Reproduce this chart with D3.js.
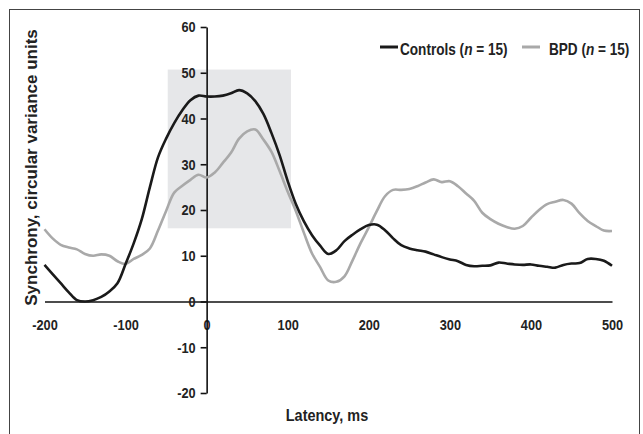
<html>
<head>
<meta charset="utf-8">
<script src="https://d3js.org/d3.v7.min.js"></script>
<style>
    body { margin: 0; background: #fff; }
    svg { display: block; }
    .tick text, .lbl { font-family: "Liberation Sans", Arial, sans-serif; font-weight: bold; fill: #222; }
</style>
</head>
<body>
<svg id="chart" width="643" height="434"></svg>
<script>
    // latency grid (ms) and group means
    var latency = d3.range(-200, 501, 10);
    var controls = [8.0, 6.0, 4.0, 2.0, 0.3, 0.0, 0.3, 1.0, 2.2, 4.0,
        8.2, 12.7, 18.0, 25.0, 31.5, 35.6, 39.0, 41.8, 44.0, 45.0,
        44.8, 44.8, 45.0, 45.5, 46.2, 45.5, 43.8, 41.0, 36.8, 32.0,
        26.3, 21.3, 17.5, 14.5, 12.2, 10.4, 11.2, 13.2, 14.6, 15.8,
        16.7, 16.8, 15.6, 13.8, 12.3, 11.6, 11.2, 10.9, 10.3, 9.7,
        9.2, 8.8, 8.0, 7.7, 7.8, 7.9, 8.5, 8.3, 8.1, 8.0,
        8.1, 7.8, 7.6, 7.4, 8.0, 8.3, 8.4, 9.3, 9.3, 8.9, 7.8];
    var bpd = [15.8, 13.8, 12.4, 11.8, 11.4, 10.4, 10.0, 10.3, 10.0, 8.8,
        8.2, 9.3, 10.2, 11.6, 15.5, 19.8, 23.8, 25.3, 26.6, 27.7,
        27.1, 28.2, 30.3, 32.5, 35.6, 37.2, 37.6, 35.4, 32.7, 28.5,
        24.0, 19.8, 15.0, 10.5, 7.5, 4.6, 4.3, 5.5, 9.0, 12.8,
        16.2, 19.8, 23.0, 24.4, 24.4, 24.6, 25.2, 26.0, 26.7, 26.1,
        26.3, 25.2, 23.6, 22.0, 19.4, 18.0, 17.0, 16.3, 15.9, 16.5,
        18.3, 20.0, 21.3, 21.8, 22.2, 21.4, 19.3, 17.6, 16.5, 15.5, 15.4];
    var xTicks = [-200, -100, 0, 100, 200, 300, 400, 500];
    var yTicks = [-20, -10, 0, 10, 20, 30, 40, 50, 60];
    var windowMs = [-48, 104];      // shaded analysis window
    var windowVal = [16, 50.7];

    var narrow = 0.85;  // squeeze to look like a condensed face
    var fmt = function(d) { return String(d); };

    var svg = d3.select('#chart');

    // frame round the figure
    svg.append('rect')
        .attr('x', 9.5).attr('y', 9.5)
        .attr('width', 630).attr('height', 440)
        .attr('fill', 'none').attr('stroke', '#444').attr('stroke-width', 1);

    var x = d3.scaleLinear().domain([-200, 500]).range([44.5, 612]);
    var y = d3.scaleLinear().domain([-20, 60]).range([393, 27]);

    svg.append('rect')
        .attr('x', x(windowMs[0])).attr('y', y(windowVal[1]))
        .attr('width', x(windowMs[1]) - x(windowMs[0]))
        .attr('height', y(windowVal[0]) - y(windowVal[1]))
        .attr('fill', '#e6e7e9');

    // x axis along zero, labels only
    var xAxis = svg.append('g')
        .attr('transform', 'translate(0,' + y(0) + ')')
        .call(d3.axisBottom(x).tickValues(xTicks).tickFormat(fmt).tickSize(0).tickPadding(18));
    xAxis.select('.domain').attr('stroke', '#111').attr('stroke-width', 1.6);
    xAxis.selectAll('.tick text')
        .style('font-size', '15px')
        .attr('transform', 'scale(' + narrow + ',1)');

    var yAxis = svg.append('g')
        .attr('transform', 'translate(' + x(0) + ',0)')
        .call(d3.axisLeft(y).tickValues(yTicks).tickFormat(fmt).tickSize(6).tickSizeOuter(0));
    yAxis.select('.domain').attr('stroke', '#111').attr('stroke-width', 1.6);
    yAxis.selectAll('.tick line').attr('stroke', '#111').attr('stroke-width', 1.6);
    yAxis.selectAll('.tick text')
        .style('font-size', '15px')
        .attr('x', -11 / narrow)
        .attr('transform', 'scale(' + narrow + ',1)');

    var line = d3.line().curve(d3.curveCatmullRom)
        .x(function(d, i) { return x(latency[i]); })
        .y(function(d) { return y(d); });

    svg.append('path').datum(bpd)
        .attr('d', line).attr('fill', 'none')
        .attr('stroke', '#a9a9a9').attr('stroke-width', 2.6);
    svg.append('path').datum(controls)
        .attr('d', line).attr('fill', 'none')
        .attr('stroke', '#1a1a1a').attr('stroke-width', 2.6);

    // legend
    var legend = [
        { name: 'Controls', color: '#1a1a1a', x0: 380, tx: 400 },
        { name: 'BPD', color: '#a9a9a9', x0: 522, tx: 549 }
    ];
    legend.forEach(function(d) {
        svg.append('line')
            .attr('x1', d.x0).attr('x2', d.x0 + 18)
            .attr('y1', 47).attr('y2', 47)
            .attr('stroke', d.color).attr('stroke-width', 3);
        var t = svg.append('text').attr('class', 'lbl')
            .attr('transform', 'translate(' + d.tx + ',55) scale(' + narrow + ',1)')
            .style('font-size', '16px');
        t.append('tspan').text(d.name + ' (');
        t.append('tspan').style('font-style', 'italic').text('n');
        t.append('tspan').text(' = 15)');
    });

    svg.append('text').attr('class', 'lbl')
        .attr('transform', 'translate(327,421) scale(' + narrow + ',1)')
        .attr('text-anchor', 'middle')
        .style('font-size', '17px')
        .text('Latency, ms');

    svg.append('text')
        .attr('transform', 'translate(37,167.5) rotate(-90)')
        .attr('text-anchor', 'middle')
        .style('font-family', '"Liberation Sans", Arial, sans-serif')
        .style('font-weight', 'bold')
        .style('font-size', '17px')
        .style('fill', '#222')
        .text('Synchrony, circular variance units');
</script>
</body>
</html>
